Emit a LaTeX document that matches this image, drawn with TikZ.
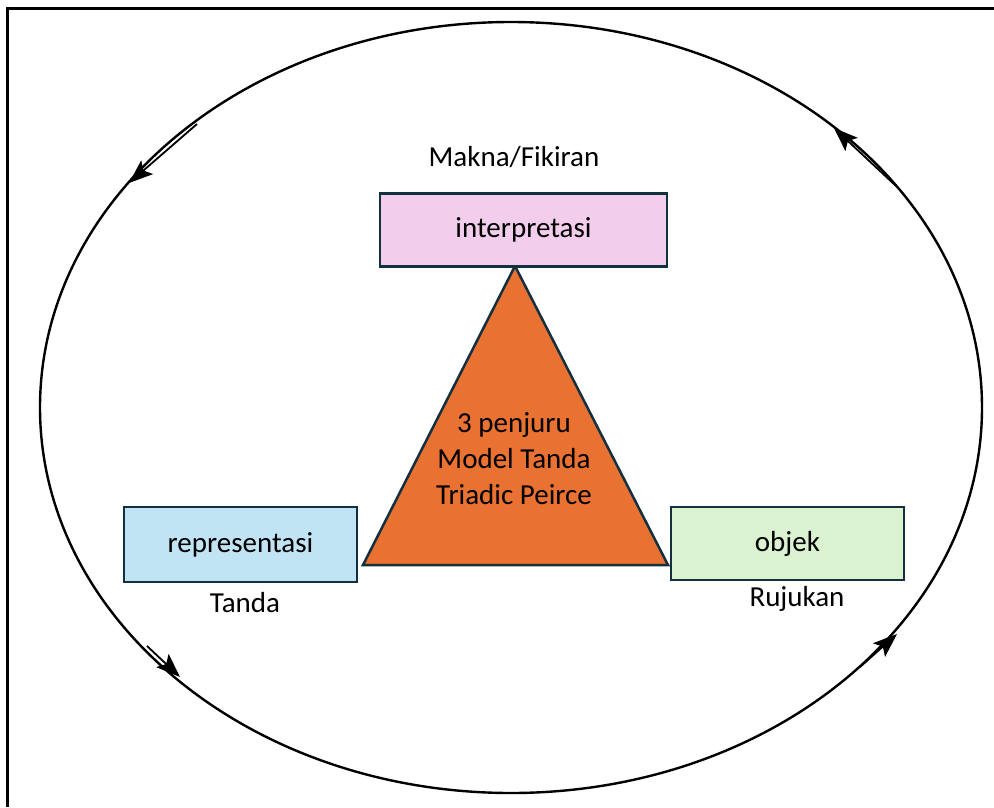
\documentclass[tikz,border=0pt]{standalone}
\usepackage{fontspec}
\setmainfont{Carlito}
\usetikzlibrary{arrows.meta}
\definecolor{edge}{HTML}{13303F}
\definecolor{pinkf}{HTML}{F2CEEC}
\definecolor{bluef}{HTML}{C1E4F5}
\definecolor{greenf}{HTML}{DAF2D0}
\definecolor{orangef}{HTML}{E97132}
\tikzset{
  box/.style={draw=edge, line width=2.5pt, minimum width=#1, minimum height=73pt, inner sep=0pt, font=\fontsize{29}{34}\selectfont, anchor=center},
  lbl/.style={font=\fontsize{29}{34}\selectfont, inner sep=0pt},
  flow/.style={line width=1.8pt, -{Stealth[length=24pt,width=18pt,inset=5pt]}}
}
\begin{document}
\begin{tikzpicture}[x=1pt,y=-1pt]
\useasboundingbox (0,0) rectangle (994,807);
% frame
\draw[line width=3pt] (7.5,807) -- (7.5,8.5) -- (994,8.5);
% ellipse
\draw[line width=2.4pt] (511,407.5) ellipse [x radius=471, y radius=385.5];
% triangle
\draw[draw=edge, fill=orangef, line width=2.5pt, line join=miter]
  (515,266) -- (668,565) -- (363,565) -- cycle;
\node[lbl, align=center, font=\fontsize{29}{36}\selectfont] (tri) at (514,459)
  {3 penjuru\\Model Tanda\\Triadic Peirce};
% boxes
\node[box=287pt, fill=pinkf] (interp) at (523.5,230) {interpretasi};
\node[box=233pt, fill=bluef, minimum height=75pt] (repr) at (240.5,544.5) {representasi};
\node[box=233pt, fill=greenf] (obj) at (787.5,543.5) {objek};
% labels
\node[lbl] (makna) at (514,157) {Makna/Fikiran};
\node[lbl] (tanda) at (245,603) {Tanda};
\node[lbl] (ruj) at (797,599) {Rujukan};
% flow arrows on the ellipse
\coordinate (a1s) at (197,124); \coordinate (a1e) at (129,183);
\coordinate (a2s) at (896,186); \coordinate (a2e) at (834,128);
\coordinate (a3s) at (147,646); \coordinate (a3e) at (180,677);
\coordinate (a4s) at (860,667); \coordinate (a4e) at (897,634);
\draw[flow] (a1s) -- (a1e);
\draw[flow] (a2s) -- (a2e);
\draw[flow] (a3s) -- (a3e);
\draw[flow] (a4s) -- (a4e);
\end{tikzpicture}
\end{document}
